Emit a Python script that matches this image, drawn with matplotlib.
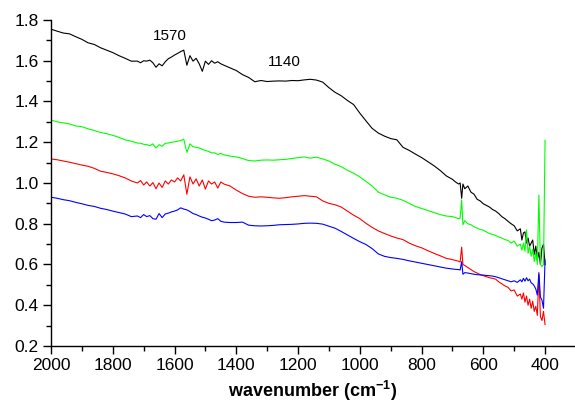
import numpy as np
import matplotlib
matplotlib.use('Agg')
import matplotlib.pyplot as plt
from matplotlib.ticker import MultipleLocator

plt.rcParams['font.family'] = ['Liberation Sans', 'DejaVu Sans']
plt.rcParams['mathtext.fontset'] = 'custom'
plt.rcParams['mathtext.rm'] = 'Liberation Sans'
plt.rcParams['mathtext.bf'] = 'Liberation Sans:bold'

# wavenumber grid (cm-1), shared by all four spectra
wavenumber = [
    2000, 1980, 1960, 1940, 1920, 1900, 1880, 1860, 1840, 1820,
    1800, 1780, 1760, 1740, 1720, 1710, 1700, 1690, 1680, 1670,
    1660, 1650, 1640, 1630, 1620, 1610, 1600, 1590, 1580, 1570,
    1560, 1550, 1540, 1530, 1520, 1510, 1500, 1490, 1480, 1470,
    1460, 1450, 1440, 1420, 1400, 1380, 1360, 1340, 1320, 1300,
    1280, 1260, 1240, 1220, 1200, 1180, 1160, 1140, 1120, 1100,
    1080, 1060, 1040, 1020, 1000, 980, 960, 940, 920, 900,
    880, 860, 840, 820, 800, 780, 760, 740, 720, 700,
    690, 680, 675, 670, 666, 660, 650, 640, 630, 620,
    610, 600, 590, 580, 570, 560, 550, 540, 530, 520,
    510, 500, 490, 480, 475, 470, 465, 460, 455, 450,
    445, 440, 435, 430, 425, 420, 415, 410, 405, 400,
]

black_y = [
    1.755, 1.745, 1.736, 1.732, 1.718, 1.705, 1.688, 1.680, 1.664, 1.652,
    1.640, 1.625, 1.612, 1.598, 1.598, 1.590, 1.600, 1.598, 1.603, 1.590,
    1.568, 1.585, 1.575, 1.595, 1.610, 1.618, 1.628, 1.636, 1.645, 1.652,
    1.578, 1.625, 1.598, 1.612, 1.585, 1.548, 1.598, 1.582, 1.600, 1.588,
    1.595, 1.585, 1.578, 1.565, 1.552, 1.532, 1.518, 1.497, 1.503, 1.498,
    1.500, 1.501, 1.500, 1.503, 1.502, 1.506, 1.509, 1.505, 1.495, 1.468,
    1.445, 1.428, 1.405, 1.385, 1.343, 1.305, 1.268, 1.245, 1.230, 1.218,
    1.212, 1.175, 1.160, 1.142, 1.125, 1.105, 1.085, 1.062, 1.035, 1.018,
    1.005, 0.995, 1.000, 0.925, 0.995, 0.972, 0.985, 0.955, 0.945, 0.920,
    0.912, 0.898, 0.890, 0.882, 0.870, 0.862, 0.850, 0.835, 0.825, 0.812,
    0.800, 0.790, 0.765, 0.775, 0.720, 0.755, 0.760, 0.705, 0.730, 0.690,
    0.705, 0.720, 0.650, 0.690, 0.622, 0.660, 0.600, 0.680, 0.700, 0.600,
]

green_y = [
    1.309, 1.300, 1.295, 1.290, 1.280, 1.276, 1.266, 1.258, 1.248, 1.242,
    1.234, 1.224, 1.212, 1.205, 1.196, 1.195, 1.190, 1.188, 1.183, 1.192,
    1.172, 1.188, 1.180, 1.195, 1.196, 1.200, 1.202, 1.205, 1.208, 1.215,
    1.150, 1.192, 1.178, 1.175, 1.172, 1.165, 1.160, 1.155, 1.148, 1.148,
    1.140, 1.145, 1.138, 1.132, 1.128, 1.120, 1.110, 1.108, 1.112, 1.113,
    1.112, 1.114, 1.116, 1.120, 1.124, 1.128, 1.122, 1.127, 1.118, 1.108,
    1.092, 1.080, 1.062, 1.048, 1.030, 1.008, 0.985, 0.955, 0.942, 0.930,
    0.925, 0.915, 0.900, 0.885, 0.875, 0.865, 0.855, 0.845, 0.838, 0.835,
    0.830, 0.825, 0.828, 0.917, 0.795, 0.815, 0.800, 0.795, 0.785, 0.778,
    0.772, 0.768, 0.760, 0.752, 0.748, 0.742, 0.735, 0.730, 0.722, 0.718,
    0.705, 0.715, 0.690, 0.700, 0.670, 0.705, 0.665, 0.770, 0.655, 0.690,
    0.640, 0.675, 0.615, 0.660, 0.600, 0.940, 0.600, 0.590, 0.600, 1.210,
]

red_y = [
    1.118, 1.114, 1.108, 1.102, 1.095, 1.088, 1.082, 1.072, 1.058, 1.052,
    1.045, 1.036, 1.025, 1.010, 1.000, 1.012, 0.990, 1.005, 0.985, 1.002,
    0.972, 1.000, 0.978, 1.010, 0.995, 1.015, 1.005, 1.025, 1.010, 1.040,
    0.945, 1.030, 0.995, 1.020, 0.985, 1.015, 0.970, 1.010, 0.995, 1.005,
    0.975, 1.005, 0.995, 0.985, 0.965, 0.948, 0.935, 0.930, 0.932, 0.930,
    0.927, 0.925, 0.928, 0.932, 0.935, 0.938, 0.935, 0.932, 0.912, 0.900,
    0.893, 0.882, 0.862, 0.842, 0.825, 0.802, 0.782, 0.765, 0.752, 0.740,
    0.730, 0.722, 0.705, 0.692, 0.682, 0.668, 0.655, 0.643, 0.630, 0.624,
    0.620, 0.616, 0.612, 0.685, 0.600, 0.595, 0.585, 0.575, 0.565, 0.558,
    0.550, 0.545, 0.540, 0.535, 0.532, 0.528, 0.515, 0.505, 0.495, 0.488,
    0.470, 0.475, 0.445, 0.455, 0.430, 0.460, 0.415, 0.445, 0.400, 0.430,
    0.385, 0.420, 0.370, 0.395, 0.350, 0.550, 0.345, 0.325, 0.370, 0.305,
]

blue_y = [
    0.930, 0.925, 0.918, 0.913, 0.905, 0.898, 0.890, 0.885, 0.876, 0.870,
    0.862, 0.855, 0.848, 0.835, 0.838, 0.830, 0.845, 0.835, 0.840, 0.825,
    0.822, 0.850, 0.830, 0.848, 0.852, 0.858, 0.862, 0.868, 0.878, 0.872,
    0.868, 0.860, 0.850, 0.845, 0.838, 0.832, 0.828, 0.822, 0.815, 0.818,
    0.825, 0.812, 0.808, 0.806, 0.806, 0.808, 0.793, 0.790, 0.789, 0.790,
    0.792, 0.795, 0.796, 0.797, 0.799, 0.802, 0.803, 0.802, 0.798, 0.788,
    0.778, 0.762, 0.745, 0.728, 0.712, 0.698, 0.678, 0.652, 0.640, 0.634,
    0.630, 0.625, 0.618, 0.612, 0.606, 0.600, 0.594, 0.588, 0.582, 0.578,
    0.576, 0.575, 0.573, 0.614, 0.552, 0.560, 0.558, 0.555, 0.552, 0.550,
    0.549, 0.548, 0.546, 0.545, 0.543, 0.540, 0.535, 0.530, 0.525, 0.520,
    0.515, 0.520, 0.512, 0.525, 0.515, 0.532, 0.518, 0.535, 0.520, 0.528,
    0.510, 0.505, 0.495, 0.480, 0.450, 0.560, 0.440, 0.425, 0.385, 0.622,
]

series = [
    (black_y, '#000000'),
    (green_y, '#00ff00'),
    (red_y, '#ff0000'),
    (blue_y, '#0000ff'),
]

# peak labels: (text, wavenumber, y)
peak_labels = [('1570', 1614, 1.721), ('1140', 1245, 1.594)]

fig = plt.figure(figsize=(5.75, 4.08), dpi=100)
ax = fig.add_axes([0.0887, 0.152, 0.9113, 0.799])

x = np.array(wavenumber)
for y, color in series:
    ax.plot(x, y, color=color, linewidth=0.8)

for text, xw, yv in peak_labels:
    ax.text(xw, yv, text, ha='center', va='center', fontsize=11)

ax.set_xlim(2000, 303)
ax.set_ylim(0.2, 1.8)
ax.xaxis.set_major_locator(MultipleLocator(200))
ax.xaxis.set_minor_locator(MultipleLocator(100))
ax.yaxis.set_major_locator(MultipleLocator(0.2))
ax.yaxis.set_minor_locator(MultipleLocator(0.1))
ax.yaxis.set_major_formatter(plt.FuncFormatter(lambda v, p: f'{v:.1f}'))

ax.spines['top'].set_visible(False)
ax.spines['right'].set_visible(False)
ax.spines['left'].set_linewidth(1.0)
ax.spines['bottom'].set_linewidth(1.0)
ax.tick_params(which='major', direction='out', length=6, width=1.0,
               labelsize=12.5, pad=3)
ax.tick_params(which='minor', direction='out', length=3.5, width=1.0)

ax.set_xlabel(r'wavenumber (cm$^{\mathbf{-1}}$)', fontsize=13,
              fontweight='bold', labelpad=4)

fig.savefig('out.png', dpi=100)
